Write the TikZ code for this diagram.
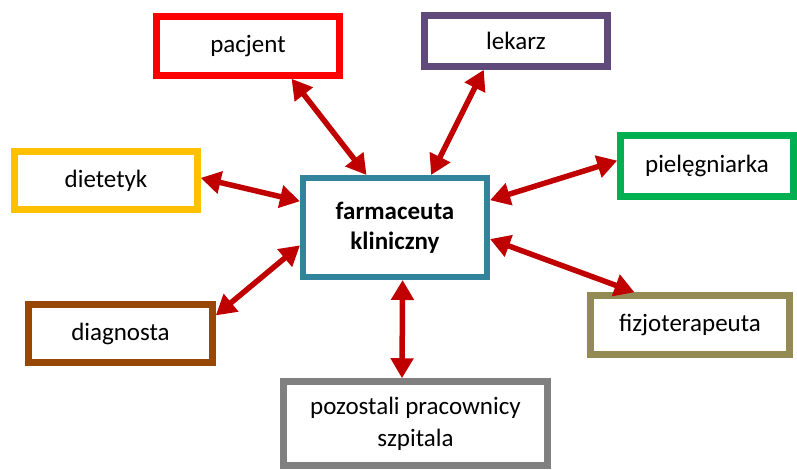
\documentclass[tikz,border=0pt]{standalone}
\usepackage{fontspec}
\setmainfont{Carlito}
\usepackage{tikz}
\usetikzlibrary{arrows.meta,calc}

\definecolor{arrred}{HTML}{C00000}
\definecolor{pacred}{HTML}{FF0000}
\definecolor{lekpurple}{HTML}{604A7B}
\definecolor{pielgreen}{HTML}{00B050}
\definecolor{dietorange}{HTML}{FFC000}
\definecolor{fkteal}{HTML}{31849B}
\definecolor{diagbrown}{HTML}{984806}
\definecolor{fizolive}{HTML}{948A54}
\definecolor{pozgray}{HTML}{808080}

\begin{document}
\begin{tikzpicture}[
    x=1pt, y=-1pt,
    font=\fontsize{25}{31}\selectfont,
    role/.style={draw, line width=6.5pt, fill=white, inner sep=0pt,
                 align=center, minimum height=58pt, minimum width=183pt},
    arr/.style={{Triangle[length=20pt,width=22pt]}-{Triangle[length=20pt,width=22pt]},
                line width=5.5pt, arrred}
  ]
    \useasboundingbox (0,0) rectangle (797,470);
    \node[role, draw=pacred, minimum height=59pt] (Pac) at (248,46) {pacjent};
    \node[role, draw=lekpurple, minimum height=51pt] (Lek) at (516,41) {lekarz};
    \node[role, draw=pielgreen, minimum width=173pt, minimum height=61pt] (Piel) at (707,166) {pielęgniarka};
    \node[role, draw=dietorange] (Diet) at (106,180.5) {dietetyk};
    \node[role, draw=fkteal, line width=6pt, minimum width=184pt, minimum height=99pt,
          font=\fontsize{25}{30}\selectfont\bfseries] (FK) at (395,227.5) {farmaceuta\\kliniczny};
    \node[role, draw=diagbrown, minimum width=184pt] (Diag) at (120.5,333.5) {diagnosta};
    \node[role, draw=fizolive, minimum width=199pt, minimum height=59pt] (Fiz) at (690,325) {fizjoterapeuta};
    \node[role, draw=pozgray, minimum width=264pt, minimum height=84pt,
          font=\fontsize{25}{32}\selectfont] (Poz) at (415.5,423.5) {pozostali pracownicy\\szpitala};
    \draw[arr] ($(Pac.south west)!0.73!(Pac.south east)$) -- ($(FK.north west)!0.35!(FK.north east)$);
    \draw[arr] ($(Lek.south west)!0.33!(Lek.south east)$) -- ($(FK.north west)!0.69!(FK.north east)$);
    \draw[arr] ($(Diet.north east)!0.46!(Diet.south east)$) -- ($(FK.north west)!0.25!(FK.south west)$);
    \draw[arr] ($(Diag.north east)!0.22!(Diag.south east)$) -- ($(FK.north west)!0.67!(FK.south west)$);
    \draw[arr] ($(Piel.north west)!0.42!(Piel.south west)$) -- ($(FK.north east)!0.24!(FK.south east)$);
    \draw[arr] ($(Fiz.north west)!0.23!(Fiz.north east)$) -- ($(FK.north east)!0.61!(FK.south east)$);
    \draw[arr] ($(Poz.north west)!0.45!(Poz.north east)$) -- ($(FK.south west)!0.54!(FK.south east)$);
  \end{tikzpicture}
\end{document}
